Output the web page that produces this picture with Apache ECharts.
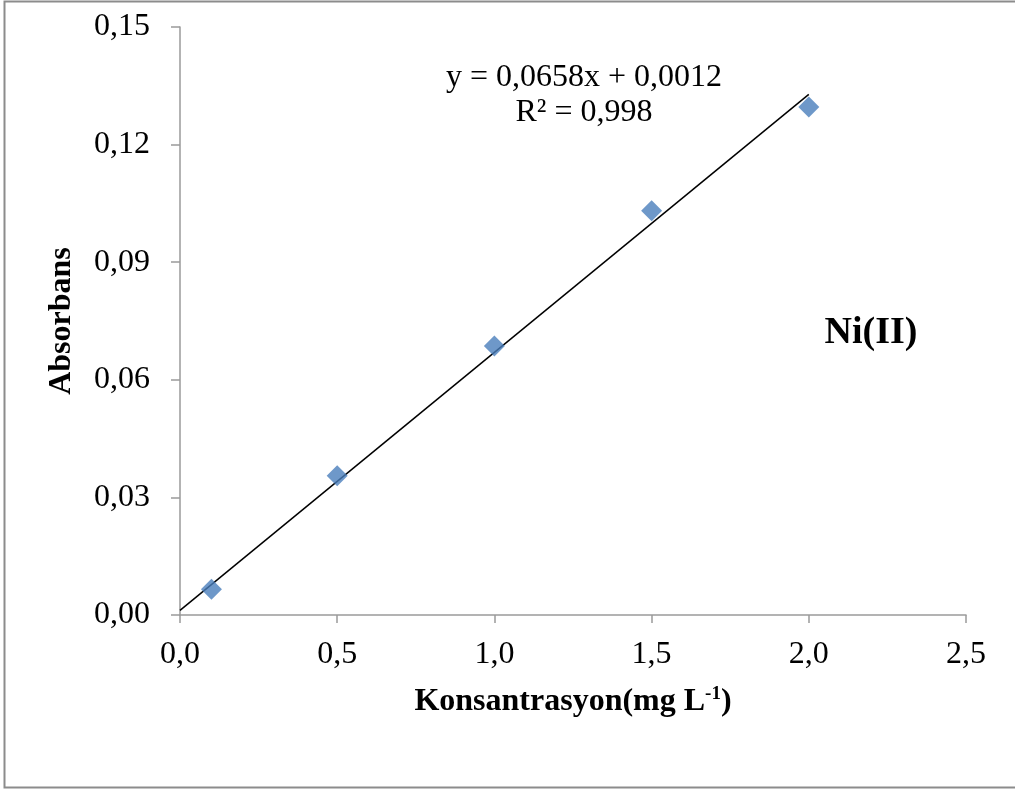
<!DOCTYPE html>
<html>
<head>
<meta charset="utf-8">
<script src="https://cdn.jsdelivr.net/npm/echarts@6/dist/echarts.min.js"></script>
<style>
  html, body { margin: 0; padding: 0; background: #fff; }
  #chart { width: 1015px; height: 791px; }
</style>
</head>
<body>
<div id="chart"></div>
<script>
// Calibration data for Ni(II)
const concentrations = [0.1, 0.5, 1.0, 1.5, 2.0];      // mg L-1
const absorbances    = [0.0066, 0.0355, 0.0686, 0.1031, 0.1296];

// Linear fit reported on the chart
const slope = 0.0658;
const intercept = 0.0012;
const rSquared = 0.998;
const fitRange = [0, 2.0];

const xTicks = { min: 0, max: 2.5, interval: 0.5 };
const yTicks = { min: 0, max: 0.15, interval: 0.03 };

const serif = '"Liberation Serif", "Times New Roman", serif';
const axisGray = '#9a9a9a';
const comma = (v, d) => v.toFixed(d).replace('.', ',');

const fitLine = fitRange.map(x => [x, slope * x + intercept]);

const chart = echarts.init(document.getElementById('chart'), null, { renderer: 'canvas' });
chart.setOption({
  backgroundColor: '#fff',
  animation: false,
  grid: { left: 180, right: 49, top: 27, bottom: 176 },
  xAxis: {
    type: 'value',
    min: xTicks.min, max: xTicks.max, interval: xTicks.interval,
    name: '{b|Konsantrasyon(mg L}{s|-1}{b|)}',
    nameLocation: 'middle',
    nameGap: 70,
    nameTextStyle: {
      rich: {
        b: { fontFamily: serif, fontSize: 32, fontWeight: 'bold', color: '#000' },
        s: { fontFamily: serif, fontSize: 19, fontWeight: 'bold', color: '#000', verticalAlign: 'top', padding: [0, 0, 14, 0] }
      }
    },
    axisLine: { show: true, lineStyle: { color: axisGray, width: 1.5 } },
    axisTick: { show: true, inside: false, length: 8, lineStyle: { color: axisGray, width: 1.5 } },
    axisLabel: { fontFamily: serif, fontSize: 32, color: '#000', margin: 24, formatter: v => comma(v, 1) },
    splitLine: { show: false }
  },
  yAxis: {
    type: 'value',
    min: yTicks.min, max: yTicks.max, interval: yTicks.interval,
    name: 'Absorbans',
    nameLocation: 'middle',
    nameGap: 102,
    nameRotate: 90,
    nameTextStyle: { fontFamily: serif, fontSize: 32, fontWeight: 'bold', color: '#000' },
    axisLine: { show: true, lineStyle: { color: axisGray, width: 1.5 } },
    axisTick: { show: true, inside: false, length: 9, lineStyle: { color: axisGray, width: 1.5 } },
    axisLabel: { fontFamily: serif, fontSize: 32, color: '#000', margin: 30, formatter: v => comma(v, 2) },
    splitLine: { show: false }
  },
  series: [
    {
      name: 'Trend',
      type: 'line',
      data: fitLine,
      symbol: 'none',
      lineStyle: { color: '#000', width: 1.5 },
      z: 2
    },
    {
      name: 'Ni(II)',
      type: 'scatter',
      data: concentrations.map((x, i) => [x, absorbances[i]]),
      symbol: 'diamond',
      symbolSize: [21, 21],
      itemStyle: { color: '#4a7ebb' },
      z: 3
    }
  ],
  graphic: [
    {
      type: 'rect',
      shape: { x: 4.5, y: 1.5, width: 1030, height: 786 },
      style: { fill: 'none', stroke: '#8c8c8c', lineWidth: 2 },
      silent: true
    },
    {
      type: 'text',
      x: 584, y: 78,
      style: {
        text: 'y = ' + comma(slope, 4) + 'x + ' + comma(intercept, 4),
        font: '32px ' + serif, fill: '#000', align: 'center', verticalAlign: 'middle'
      }
    },
    {
      type: 'text',
      x: 584, y: 113,
      style: {
        text: 'R² = ' + comma(rSquared, 3),
        font: '32px ' + serif, fill: '#000', align: 'center', verticalAlign: 'middle'
      }
    },
    {
      type: 'text',
      x: 871, y: 333,
      style: {
        text: 'Ni(II)',
        font: 'bold 38px ' + serif, fill: '#000', align: 'center', verticalAlign: 'middle'
      }
    }
  ]
});
</script>
</body>
</html>
